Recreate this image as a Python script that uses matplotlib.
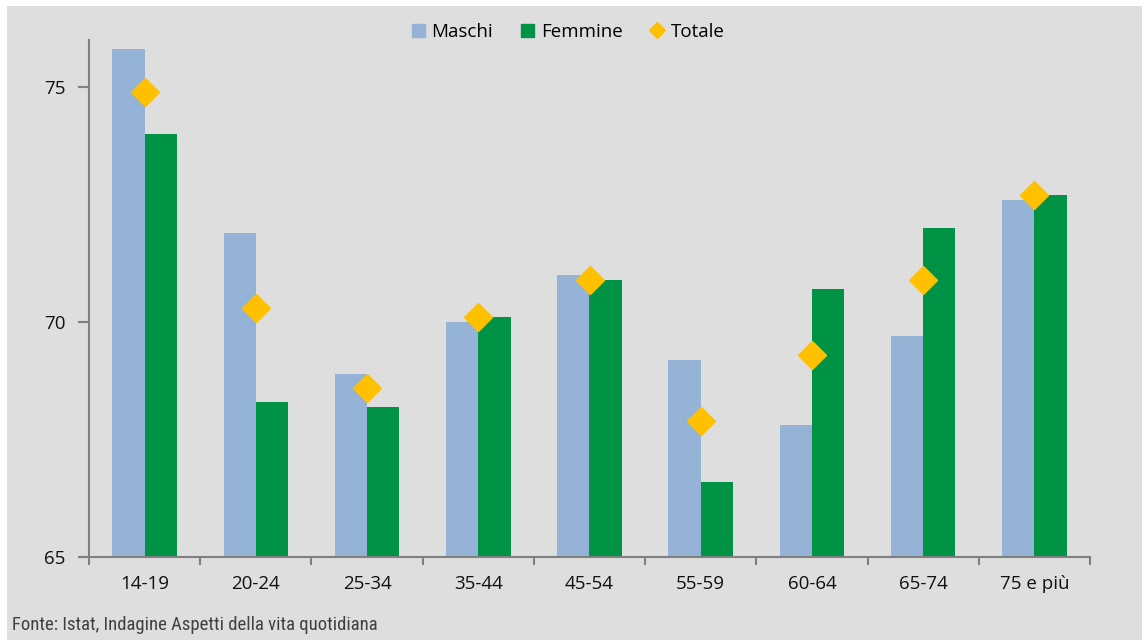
import numpy as np
import matplotlib.pyplot as plt
from matplotlib.patches import Rectangle, Patch
from matplotlib.lines import Line2D

plt.rcParams['font.family'] = ['Open Sans', 'DejaVu Sans']

categories = ['14-19', '20-24', '25-34', '35-44', '45-54', '55-59', '60-64', '65-74', '75 e più']
maschi = [75.8, 71.9, 68.9, 70.0, 71.0, 69.2, 67.8, 69.7, 72.6]
femmine = [74.0, 68.3, 68.2, 70.1, 70.9, 66.6, 70.7, 72.0, 72.7]
totale = [74.9, 70.3, 68.6, 70.1, 70.9, 67.9, 69.3, 70.9, 72.7]

c_m = '#95B3D7'
c_f = '#009245'
c_t = '#FFC000'
bg = '#DEDEDE'

fig = plt.figure(figsize=(11.47, 6.40), dpi=100, facecolor='white')
fig.patches.append(Rectangle((7/1147, 0), 1135/1147, 634/640, transform=fig.transFigure,
                             facecolor=bg, edgecolor='none', zorder=-10))

ax = fig.add_axes([89/1147, 83/640, 1001/1147, 517/640])
ax.set_facecolor(bg)

x = np.arange(len(categories))
w = 0.29
ax.bar(x - w/2, maschi, w, color=c_m, zorder=2)
ax.bar(x + w/2, femmine, w, color=c_f, zorder=2)
ax.plot(x, totale, linestyle='none', marker='D', markersize=14, color=c_t,
        markeredgecolor=c_t, zorder=3)

ax.set_ylim(65, 76)
ax.set_xlim(-0.5, len(categories) - 0.5)
ax.set_yticks([65, 70, 75])
ax.set_xticks(x)
ax.set_xticklabels(categories)
ax.set_xticks(np.arange(len(categories) + 1) - 0.5, minor=True)
ax.tick_params(axis='x', which='major', length=0, pad=13, labelsize=13.5, labelcolor='#111111')
ax.tick_params(axis='x', which='minor', length=6, width=1.5, color='#808080')
ax.tick_params(axis='y', length=8, width=1.5, color='#808080', labelsize=13.5, pad=9,
               labelcolor='#111111')

for s in ['top', 'right']:
    ax.spines[s].set_visible(False)
for s in ['left', 'bottom']:
    ax.spines[s].set_color('#808080')
    ax.spines[s].set_linewidth(1.5)

handles = [Patch(color=c_m), Patch(color=c_f),
           Line2D([], [], linestyle='none', marker='D', markersize=8, color=c_t)]
ax.legend(handles, ['Maschi', 'Femmine', 'Totale'], loc='center',
          bbox_to_anchor=(568/1147, 1 - 32/640), bbox_transform=fig.transFigure, ncol=3,
          frameon=False, fontsize=13.5, handlelength=0.7, handleheight=0.7,
          handletextpad=0.35, columnspacing=1.5, borderpad=0)

fig.text(12/1147, 15/640, 'Fonte: Istat, Indagine Aspetti della vita quotidiana',
         fontsize=13.5, va='center', ha='left', color='#404040',
         family=['Roboto Condensed', 'Liberation Sans Narrow', 'Liberation Sans'])

fig.savefig('out.png', dpi=100, facecolor=fig.get_facecolor())
